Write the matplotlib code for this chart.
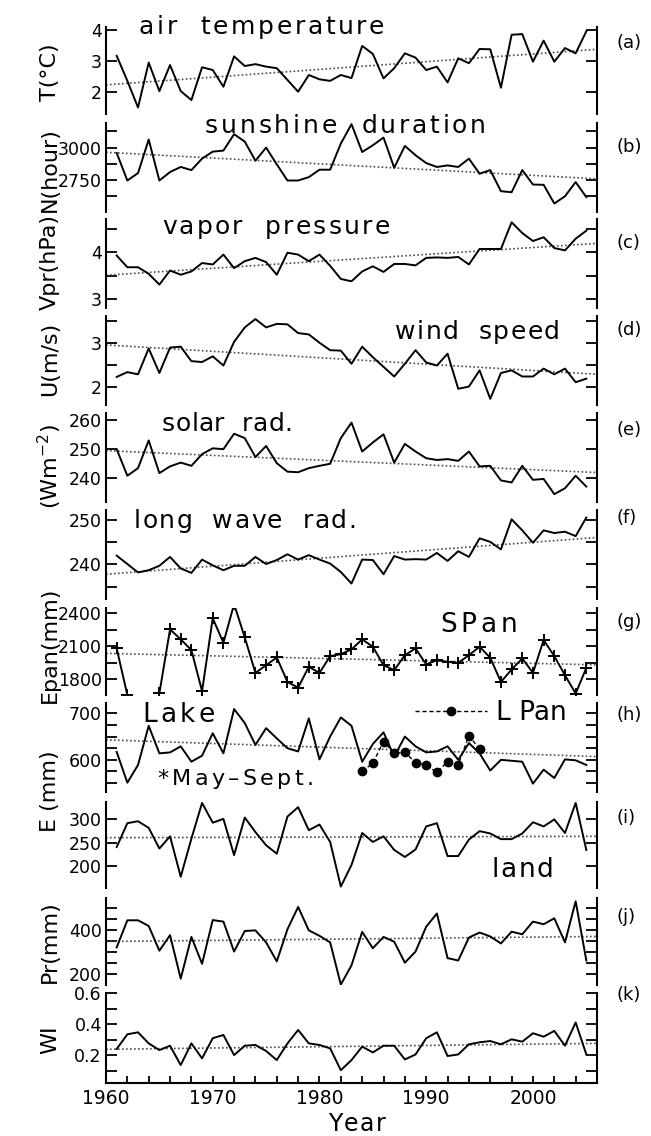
import matplotlib.pyplot as plt
import numpy as np
from matplotlib.font_manager import FontProperties

plt.rcParams['font.family'] = ['DejaVu Sans']

years = np.arange(1961, 2006)
lpan_years = np.arange(1984, 1996)

air_temp = [3.16, 2.35, 1.49, 2.94, 2.02, 2.86, 2.02, 1.73, 2.79, 2.70, 2.16, 3.14,
            2.83, 2.89, 2.81, 2.76, 2.38, 2.00, 2.54, 2.40, 2.35, 2.54, 2.44,
            3.48, 3.22, 2.43, 2.76, 3.24, 3.10, 2.70, 2.81, 2.30, 3.08, 2.92, 3.38,
            3.37, 2.13, 3.84, 3.86, 2.97, 3.65, 2.97, 3.41, 3.24, 3.95]
sunshine = [2959, 2747, 2804, 3062, 2747, 2812, 2851, 2827, 2915, 2969, 2977, 3103,
            3046, 2899, 3000, 2871, 2747, 2747, 2773, 2830, 2830, 3031, 3180,
            2966, 3018, 3077, 2845, 3013, 2941, 2881, 2851, 2863, 2851, 2915, 2799,
            2827, 2665, 2657, 2827, 2716, 2714, 2570, 2626, 2735, 2619]
vapor = [3.93, 3.68, 3.68, 3.54, 3.31, 3.61, 3.52, 3.59, 3.77, 3.74, 3.95, 3.66,
         3.81, 3.88, 3.79, 3.52, 3.99, 3.95, 3.81, 3.95, 3.71, 3.43, 3.38,
         3.59, 3.70, 3.58, 3.75, 3.75, 3.72, 3.88, 3.89, 3.88, 3.90, 3.74, 4.07,
         4.07, 4.07, 4.64, 4.41, 4.24, 4.32, 4.09, 4.04, 4.29, 4.46]
wind = [2.22, 2.33, 2.28, 2.87, 2.31, 2.89, 2.91, 2.58, 2.56, 2.69, 2.48, 3.02,
        3.35, 3.54, 3.35, 3.43, 3.42, 3.22, 3.19, 3.00, 2.83, 2.82, 2.52,
        2.91, 2.67, 2.45, 2.23, 2.52, 2.83, 2.55, 2.48, 2.75, 1.95, 2.00, 2.37,
        1.72, 2.31, 2.37, 2.23, 2.23, 2.41, 2.28, 2.41, 2.10, 2.18]
solar = [250.0, 240.9, 243.5, 253.0, 241.8, 244.1, 245.4, 244.3, 248.3, 250.3, 250.0, 255.3,
         253.8, 247.3, 251.1, 245.2, 242.3, 242.1, 243.5, 244.3, 245.0, 253.8, 259.1,
         249.2, 252.3, 255.1, 245.4, 251.8, 249.2, 246.9, 246.3, 246.6, 246.0, 249.2, 244.1,
         244.3, 239.3, 238.6, 244.3, 239.5, 239.8, 234.6, 236.6, 240.9, 237.2]
longwave = [242.0, 240.1, 238.2, 238.7, 239.7, 241.7, 239.1, 238.1, 241.1, 239.8, 238.7, 239.7,
            239.7, 241.7, 240.1, 241.0, 242.3, 241.1, 242.1, 241.1, 240.2, 238.3, 235.7,
            241.1, 241.0, 237.8, 241.9, 241.1, 241.2, 241.1, 242.6, 240.8, 243.0, 241.7, 245.9,
            245.1, 243.4, 250.2, 247.7, 244.9, 247.7, 247.1, 247.4, 246.4, 250.6]
span = [2079, 1657, np.nan, np.nan, 1672, 2252, 2161, 2064, 1692, 2352, 2130, 2480,
        2179, 1857, 1927, 1997, 1775, 1724, 1912, 1857, 2009, 2027, 2070,
        2161, 2094, 1927, 1882, 2018, 2079, 1933, 1973, 1957, 1948, 2018, 2094,
        1994, 1775, 1888, 1988, 1857, 2155, 2009, 1836, 1670, 1903]
lake = [617, 551, 589, 673, 614, 616, 629, 596, 609, 657, 614, 709,
        679, 632, 668, 646, 625, 618, 689, 601, 650, 691, 673,
        596, 634, 659, 607, 650, 629, 616, 618, 629, 600, 636, 614,
        577, 600, 598, 596, 549, 579, 561, 601, 599, 589]
lpan = [575, 593, 639, 614, 616, 594, 589, 573, 596, 589, 652, 623]
land_e = [241, 292, 296, 282, 238, 264, 178, 259, 335, 293, 301, 224,
          304, 273, 245, 227, 306, 326, 277, 289, 252, 157, 203,
          271, 252, 264, 235, 220, 236, 285, 292, 222, 222, 257, 275,
          270, 258, 258, 270, 294, 285, 300, 271, 335, 235]
precip = [320, 444, 444, 418, 305, 376, 177, 368, 245, 445, 438, 301,
          395, 398, 343, 256, 403, 505, 398, 373, 343, 150, 238,
          391, 316, 368, 346, 250, 301, 415, 475, 271, 260, 365, 388,
          370, 338, 392, 380, 438, 426, 453, 343, 531, 260]
wi = [0.241, 0.335, 0.348, 0.277, 0.234, 0.262, 0.138, 0.277, 0.181, 0.310, 0.331, 0.202,
      0.262, 0.267, 0.228, 0.170, 0.277, 0.363, 0.277, 0.267, 0.245, 0.105, 0.170,
      0.256, 0.219, 0.262, 0.262, 0.174, 0.206, 0.310, 0.348, 0.196, 0.206, 0.271, 0.284,
      0.292, 0.271, 0.303, 0.288, 0.342, 0.320, 0.357, 0.262, 0.411, 0.206]

# linear trend lines, values at 1960 and 2006
trend_years = [1960, 2006]
trend_air_temp = [2.22, 3.37]
trend_sunshine = [2964, 2760]
trend_vapor = [3.51, 4.19]
trend_wind = [2.95, 2.28]
trend_solar = [249.5, 242.0]
trend_longwave = [237.8, 246.1]
trend_span = [2034, 1930]
trend_lake = [643, 607]
trend_land_e = [261, 264]
trend_precip = [347, 370]
trend_wi = [0.239, 0.277]

W, H = 651, 1136
fig = plt.figure(figsize=(W / 100, H / 100), dpi=100)
renderer = fig.canvas.get_renderer()
X0, X1 = 106, 597


def ftext(x, y, s, **kw):
    return fig.text(x / W, 1 - y / H, s, **kw)


def text_w(s, fp):
    return renderer.get_text_width_height_descent(s, fp, ismath=False)[0]


def spaced(x, y, s, size, track):
    # draw text letter by letter with extra spacing (wide lettering of the original)
    fp = FontProperties(family='DejaVu Sans', size=size)
    base = text_w('||', fp)
    for ch in s:
        if ch != ' ':
            ftext(x, y, ch, fontproperties=fp, ha='left', va='baseline')
        x += text_w('|' + ch + '|', fp) - base + track


# (top px, bottom px, data, trend, ylim, ticks, labelled ticks, panel-label y)
panels = [
    (27, 114, air_temp, trend_air_temp, (1.28, 4.09), [2, 3, 4], [2, 3, 4], 43, 'a'),
    (123, 212, sunshine, trend_sunshine, (2505, 3189), [2625, 2750, 2875, 3000, 3125], [2750, 3000], 147, 'b'),
    (219, 308, vapor, trend_vapor, (2.81, 4.71), [3, 3.5, 4, 4.5], [3, 4], 243, 'c'),
    (316, 405, wind, trend_wind, (1.58, 3.61), [2, 2.5, 3, 3.5], [2, 3], 330, 'd'),
    (413, 502, solar, trend_solar, (231.9, 262.4), [240, 250, 260], [240, 250, 260], 430, 'e'),
    (510, 599, longwave, trend_longwave, (232.2, 252.3), [235, 240, 245, 250], [240, 250], 518, 'f'),
    (608, 695, span, trend_span, (1657, 2445), [1800, 1950, 2100, 2250, 2400], [1800, 2100, 2400], 622, 'g'),
    (703, 792, lake, trend_lake, (531, 722), [550, 575, 600, 625, 650, 675, 700], [600, 700], 715, 'h'),
    (802, 888, land_e, trend_land_e, (154, 337), [200, 250, 300], [200, 250, 300], 818, 'i'),
    (898, 985, precip, trend_precip, (148, 546), [200, 250, 300, 350, 400, 450, 500], [200, 400], 917, 'j'),
    (993, 1083, wi, trend_wi, (0.023, 0.6), [0.1, 0.2, 0.3, 0.4, 0.5, 0.6], [0.2, 0.4, 0.6], 995, 'k'),
]

axes = {}
for top, bot, data, trend, ylim, ticks, labelled, ly, key in panels:
    ax = fig.add_axes([X0 / W, 1 - bot / H, (X1 - X0) / W, (bot - top) / H])
    axes[key] = ax
    ax.plot(trend_years, trend, color='0.3', lw=1.2, ls=(0, (1, 1.4)))
    if key == 'g':
        ax.plot(years, data, color='black', lw=1.4, marker='+', ms=9, mew=1.4)
    else:
        ax.plot(years, data, color='black', lw=1.4)
    ax.set_xlim(1960, 2006)
    ax.set_ylim(*ylim)
    ax.set_yticks(ticks)
    ax.set_yticklabels([(('%g' % t) if t in labelled else '') for t in ticks])
    ax.tick_params(axis='y', direction='in', left=True, right=True, length=8, width=1.3,
                   labelsize=12.5, pad=3)
    ax.spines['top'].set_visible(False)
    for s in ('left', 'right'):
        ax.spines[s].set_linewidth(1.5)
    if key != 'k':
        ax.spines['bottom'].set_visible(False)
        ax.set_xticks([])
    ax.patch.set_alpha(0)
    ftext(616, ly, '(%s)' % key, fontsize=13, va='center', ha='left')

# large-pan evaporation (May-Sept.)
ax = axes['h']
ax.plot(lpan_years, lpan, color='black', lw=1.0, ls=(0, (3, 2)), marker='o', ms=6,
        label='L Pan')
ax.legend(loc='center right', bbox_to_anchor=(0.965, 0.885), frameon=False, fontsize=19,
          handlelength=2.7, handletextpad=0.35, numpoints=1, borderpad=0)

ax = axes['k']
ax.set_xticks(np.arange(1960, 2001, 10))
ax.set_xticks(np.arange(1962, 2006, 2), minor=True)
ax.tick_params(axis='x', which='both', direction='in', length=5, width=1.3,
               labelsize=13.5, pad=4)
ax.spines['bottom'].set_linewidth(1.5)

# panel titles
spaced(139, 34, 'air  temperature', 18, 2.6)
spaced(205, 133, 'sunshine  duration', 18, 2.8)
spaced(162, 234, 'vapor  pressure', 18, 2.2)
spaced(395, 339, 'wind  speed', 18, 1.4)
spaced(162, 431, 'solar  rad.', 18, 0.4)
spaced(134, 528, 'long  wave  rad.', 18, 1.4)
spaced(440, 632, 'SPan', 19, 4.0)
spaced(142, 722, 'Lake', 19, 3.5)
spaced(157, 785, '*May\u2013Sept.', 16, 3.4)
spaced(492, 877, 'land', 19, 1.5)

# y-axis labels
yl = dict(fontsize=16, rotation=90, ha='center', va='center')
ftext(50, 72, 'T(\u00b0C)', **yl)
ftext(50, 170, 'N(hour)', **yl)
ftext(50, 262, 'Vpr(hPa)', **yl)
ftext(50, 359, 'U(m/s)', **yl)
ftext(50, 467, '(Wm$^{-2}$)', **yl)
ftext(50, 645, 'Epan(mm)', **yl)
ftext(50, 791, 'E (mm)', **yl)
ftext(50, 942, 'Pr(mm)', **yl)
ftext(50, 1040, 'WI', **yl)
spaced(328, 1131, 'Year', 17, 1.5)

fig.savefig('out.png', dpi=100)
